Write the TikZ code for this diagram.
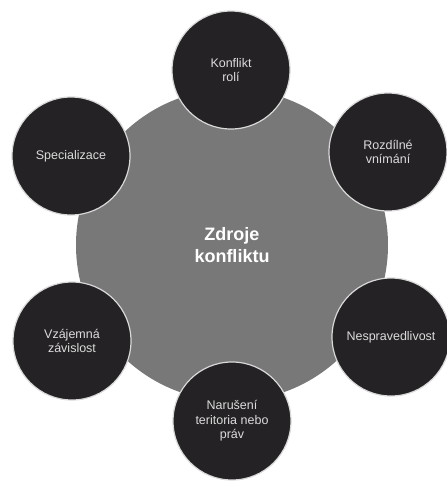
\documentclass[tikz,border=0pt]{standalone}
\usepackage{fontspec}
\setmainfont{Liberation Sans}
\definecolor{hubgray}{HTML}{787878}
\definecolor{satdark}{HTML}{242224}
\definecolor{sattext}{HTML}{DCDCDC}
\begin{document}
\begin{tikzpicture}[x=1pt,y=-1pt,
  hub/.style={circle,fill=hubgray,minimum size=312pt,inner sep=0pt,text=white,
    font=\fontsize{18}{22}\selectfont\bfseries,align=center},
  sat/.style={circle,fill=satdark,draw=white!85!black,line width=1.2pt,minimum size=118pt,
    inner sep=0pt,text=sattext,font=\fontsize{12.5}{14.5}\selectfont,align=center}]
\useasboundingbox[fill=white] (0,0) rectangle (447,483);
\node[hub] (hub) at (232,245) {Zdroje\\konfliktu};
\node[sat] (s1) at (231,70) {Konflikt\\rolí};
\node[sat] (s2) at (388,152) {Rozdílné\\vnímání};
\node[sat] (s3) at (391,337) {Nespravedlivost};
\node[sat] (s4) at (232,421) {Narušení\\teritoria nebo\\práv};
\node[sat] (s5) at (72,341) {Vzájemná\\závislost};
\node[sat] (s6) at (71,156) {Specializace};
\end{tikzpicture}
\end{document}
